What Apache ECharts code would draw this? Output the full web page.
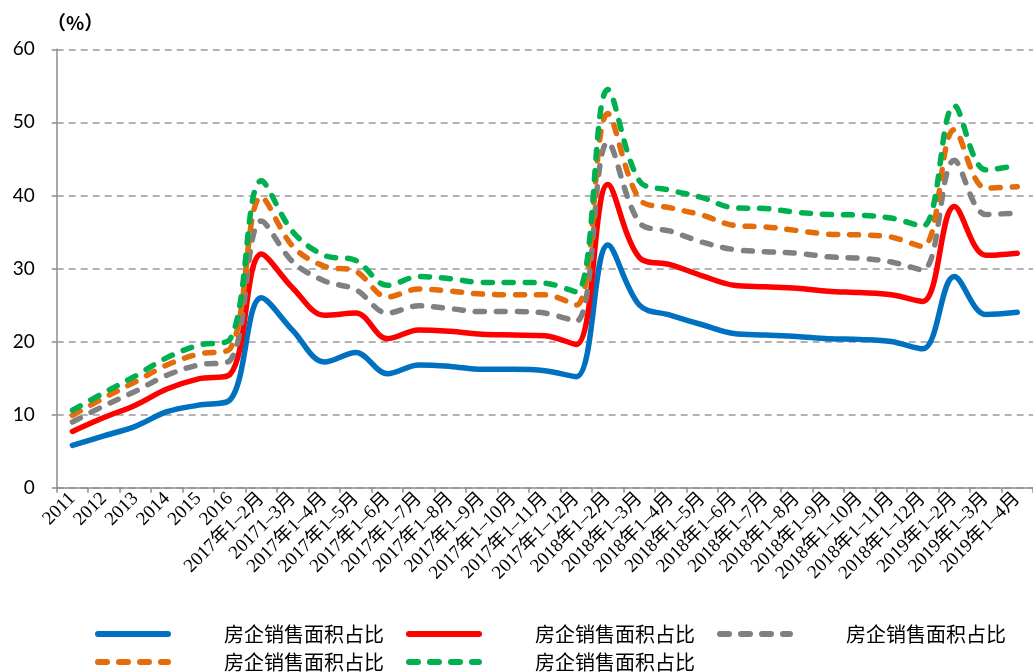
<!DOCTYPE html>
<html>
<head>
<meta charset="utf-8">
<script src="https://cdn.jsdelivr.net/npm/echarts@6/dist/echarts.min.js"></script>
<style>
  html, body { margin: 0; padding: 0; background: #fff; }
  #chart { width: 1033px; height: 672px; }
</style>
</head>
<body>
<div id="chart"></div>
<script>
// Category labels (annual, then cumulative months)
const categories = [
  '2011', '2012', '2013', '2014', '2015', '2016',
  '2017年1–2月', '20171–3月', '2017年1–4月', '2017年1–5月', '2017年1–6月',
  '2017年1–7月', '2017年1–8月', '2017年1–9月', '2017年1–10月', '2017年1–11月',
  '2017年1–12月',
  '2018年1–2月', '2018年1–3月', '2018年1–4月', '2018年1–5月', '2018年1–6月',
  '2018年1–7月', '2018年1–8月', '2018年1–9月', '2018年1–10月', '2018年1–11月',
  '2018年1–12月',
  '2019年1–2月', '2019年1–3月', '2019年1–4月'
];

// Sales-area share (%) for the five series
const seriesBlue = [5.8, 7.1, 8.4, 10.4, 11.3, 12.0, 26.0, 21.5, 17.2, 18.5, 15.6, 16.8, 16.6, 16.2, 16.2, 16.0, 15.2,
  33.2, 25.0, 23.6, 22.3, 21.1, 20.9, 20.7, 20.4, 20.3, 20.0, 19.0, 28.9, 23.7, 24.0];
const seriesRed = [7.7, 9.6, 11.3, 13.5, 14.9, 15.5, 32.0, 27.3, 23.6, 23.9, 20.4, 21.6, 21.4, 21.0, 20.9, 20.8, 19.6,
  41.5, 31.5, 30.5, 29.0, 27.7, 27.5, 27.3, 26.9, 26.7, 26.4, 25.5, 38.5, 31.8, 32.1];
const seriesGray = [9.0, 11.2, 13.2, 15.4, 16.8, 17.4, 36.5, 30.9, 28.3, 27.1, 23.9, 24.9, 24.5, 24.1, 24.1, 23.9, 22.8,
  47.3, 36.3, 35.1, 33.6, 32.6, 32.3, 32.1, 31.6, 31.4, 30.9, 29.8, 44.8, 37.4, 37.6];
const seriesOrange = [9.9, 12.3, 14.5, 16.8, 18.3, 19.0, 39.8, 33.0, 30.3, 29.6, 26.1, 27.2, 26.9, 26.5, 26.4, 26.4, 25.0,
  51.2, 39.5, 38.3, 37.3, 35.9, 35.7, 35.2, 34.7, 34.6, 34.3, 33.0, 49.0, 41.0, 41.2];
const seriesGreen = [10.6, 13.0, 15.3, 17.8, 19.5, 20.3, 42.0, 35.0, 31.8, 31.1, 27.7, 28.9, 28.6, 28.1, 28.1, 28.0, 26.8,
  54.5, 42.0, 40.7, 39.7, 38.3, 38.2, 37.7, 37.4, 37.3, 36.9, 35.8, 52.3, 43.5, 44.1];

// Y-axis ticks
const yMin = 0, yMax = 60, yStep = 10;

const legendLabel = '房企销售面积占比';
const names = ['s1', 's2', 's3', 's4', 's5'].map(k => legendLabel + '#' + k);

const cjk = '"Noto Sans CJK SC", sans-serif';
const dashPattern = [9, 12];

function lineSeries(name, data, color, dashed) {
  return {
    name: name,
    type: 'line',
    data: data,
    smooth: 0.35,
    symbol: 'none',
    showSymbol: false,
    lineStyle: {
      color: color,
      width: 5.5,
      type: dashed ? dashPattern : 'solid',
      cap: 'round',
      join: 'round'
    },
    itemStyle: { color: color },
    emphasis: { disabled: true }
  };
}

const legendCommon = {
  orient: 'horizontal',
  left: 90,
  itemWidth: 70,
  itemHeight: 8,
  itemGap: 22,
  selectedMode: false,
  formatter: n => n.split('#')[0],
  itemStyle: { opacity: 0 },
  lineStyle: { width: 6, cap: 'round' },
  textStyle: {
    fontFamily: cjk,
    fontSize: 20,
    color: '#000',
    width: 166,
    padding: [0, 0, 0, 51]
  }
};

const chart = echarts.init(document.getElementById('chart'), null, { renderer: 'canvas' });
chart.setOption({
  animation: false,
  backgroundColor: '#fff',
  title: {
    text: '（%）',
    left: 42,
    top: 8,
    textStyle: { fontFamily: cjk, fontSize: 19, fontWeight: 'bold', color: '#000' }
  },
  grid: { left: 56.7, top: 49.3, width: 979.6, height: 438.4, containLabel: false },
  legend: [
    Object.assign({}, legendCommon, { top: 619, data: names.slice(0, 3) }),
    Object.assign({}, legendCommon, { top: 647, data: names.slice(3, 5) })
  ],
  xAxis: {
    type: 'category',
    data: categories,
    boundaryGap: true,
    axisLine: { show: true, lineStyle: { color: '#8c8c8c', width: 1.5 } },
    axisTick: { show: true, interval: 0, length: 5, lineStyle: { color: '#8c8c8c', width: 1.5 } },
    axisLabel: {
      interval: 0,
      rotate: 45,
      margin: 8,
      fontFamily: '"Liberation Serif", "Noto Sans CJK SC", serif',
      fontSize: 19,
      color: '#000'
    },
    splitLine: { show: false }
  },
  yAxis: {
    type: 'value',
    min: yMin,
    max: yMax,
    interval: yStep,
    axisLine: { show: true, lineStyle: { color: '#8c8c8c', width: 1.5 } },
    axisTick: { show: true, length: 5, lineStyle: { color: '#8c8c8c', width: 1.5 } },
    axisLabel: { fontFamily: 'Lato, sans-serif', fontSize: 19, color: '#000', margin: 22 },
    splitLine: { show: true, lineStyle: { color: '#999', width: 1.5, type: [7, 5] } }
  },
  series: [
    lineSeries(names[0], seriesBlue, '#0070C0', false),
    lineSeries(names[1], seriesRed, '#FF0000', false),
    lineSeries(names[2], seriesGray, '#808080', true),
    lineSeries(names[3], seriesOrange, '#E46C0A', true),
    lineSeries(names[4], seriesGreen, '#00B050', true)
  ]
});
</script>
</body>
</html>
